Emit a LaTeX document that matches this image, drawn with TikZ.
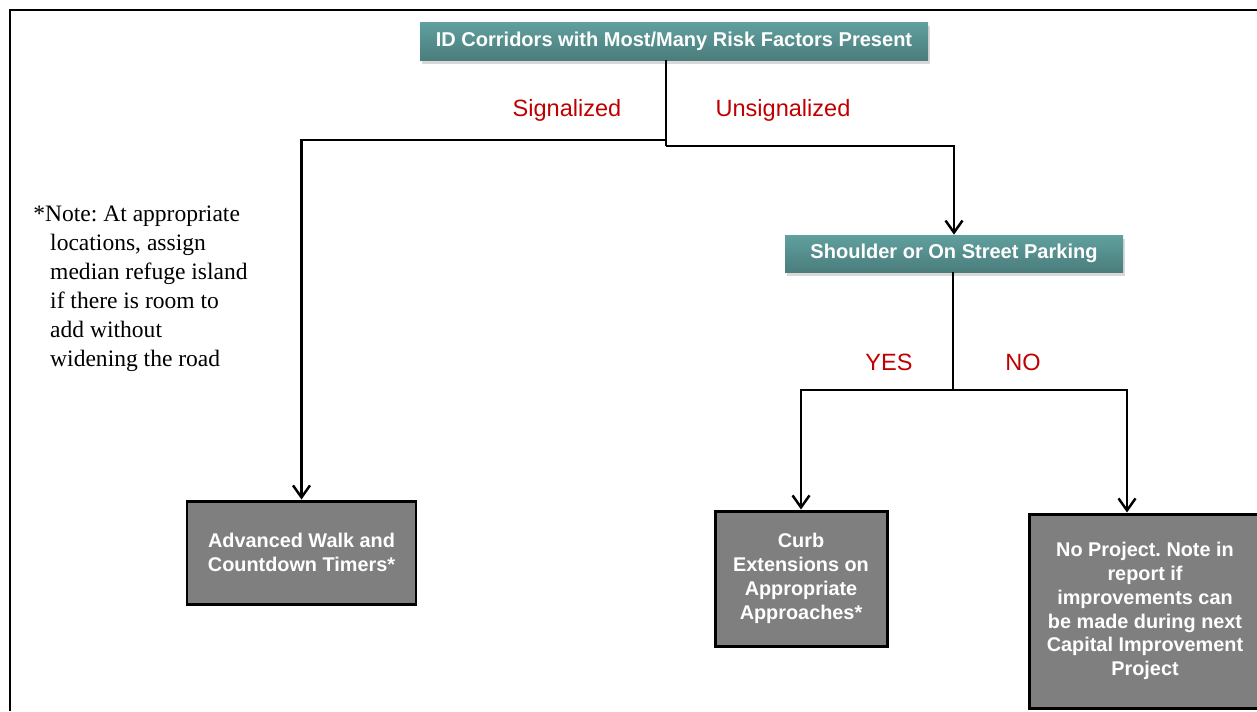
\documentclass[tikz,border=0pt]{standalone}
\usepackage{fontspec}
\setmainfont{Liberation Serif}
\setsansfont{Liberation Sans}
\frenchspacing
\usetikzlibrary{arrows.meta, positioning, shadows}
\definecolor{hdtop}{HTML}{60A09E}
\definecolor{hdbot}{HTML}{4A7D7C}
\definecolor{endgray}{HTML}{7F7F7F}
\definecolor{brred}{HTML}{C00000}
\tikzset{
	hnode/.style={top color=hdtop, bottom color=hdbot, draw=none,
		align=center, font=\fontsize{11.4}{13}\selectfont\bfseries\sffamily, text=white,
		drop shadow={opacity=0.3, shadow xshift=1pt, shadow yshift=-2.5pt}},
	enode/.style={draw=black, fill=endgray, line width=1.7pt, align=center,
		font=\fontsize{11.3}{13.6}\selectfont\bfseries\sffamily, text=white, inner sep=2pt},
	blabel/.style={text=brred, font=\fontsize{13.4}{15}\selectfont\sffamily},
	wire/.style={line width=1.4pt, draw=black},
	marr/.style={wire, -{Straight Barb[length=2.4mm, width=3.4mm]}}
}
\begin{document}
\begin{tikzpicture}[x=0.02cm, y=-0.02cm]
	\useasboundingbox (0,0) rectangle (1257,711);
	% frame
	\draw[line width=1.2pt] (10,711) -- (10,10) -- (1257,10);
	% decision boxes
	\node[hnode, minimum width=508*0.02cm, minimum height=38*0.02cm] (top) at (674,41)
		{ID Corridors with Most/Many Risk Factors Present};
	\node[hnode, minimum width=338*0.02cm, minimum height=37*0.02cm] (park) at (954,253.5)
		{Shoulder or On Street Parking};
	% end boxes
	\node[enode, minimum width=229*0.02cm, minimum height=103*0.02cm] (walk) at (301.5,552.5)
		{Advanced Walk and\\Countdown Timers*};
	\node[enode, minimum width=172*0.02cm, minimum height=135*0.02cm] (curb) at (801,578.5)
		{Curb\\Extensions on\\Appropriate\\Approaches*};
	\node[enode, minimum width=232*0.02cm, minimum height=194*0.02cm] (noproj) at (1145,611)
		{No Project. Note in\\report if\\improvements can\\be made during next\\Capital Improvement\\Project};
	% note
	\node[anchor=north west, inner sep=0pt, align=left,
		font=\fontsize{13.4}{16.4}\selectfont] (note) at (33,206)
		{*Note: At appropriate\\
		\hspace*{9.6pt}locations, assign\\
		\hspace*{9.6pt}median refuge island\\
		\hspace*{9.6pt}if there is room to\\
		\hspace*{9.6pt}add without\\
		\hspace*{9.6pt}widening the road};
	% branch points
	\coordinate (sigturn) at (666,140);
	\coordinate (unsigturn) at (666,146);
	\coordinate (ynturn) at (953,390);
	\coordinate (noturn) at (1127,390);
	% connectors
	\draw[wire] (top.south -| unsigturn) -- (unsigturn);
	\draw[marr] (sigturn) -| (walk.north);
	\draw[marr] (unsigturn) -| (park.north);
	\draw[wire] (park.south -| ynturn) -- (ynturn);
	\draw[marr] (ynturn) -| (curb.north);
	\draw[marr] (ynturn) -- (noturn) -- (noturn |- noproj.north);
	% branch labels
	\node[blabel] (sig) at (567,110) {Signalized};
	\node[blabel] (unsig) at (783,110) {Unsignalized};
	\node[blabel] (yes) at (889,362) {YES};
	\node[blabel] (no) at (1023,362) {NO};
\end{tikzpicture}
\end{document}
